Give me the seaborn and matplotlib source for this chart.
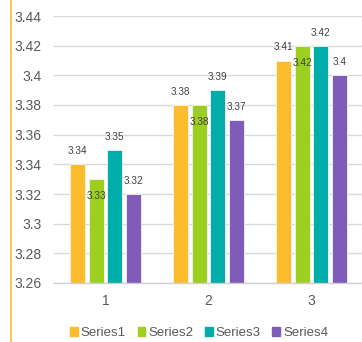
import matplotlib
matplotlib.use("Agg")
import matplotlib.pyplot as plt
import seaborn as sns
import pandas as pd
from matplotlib.lines import Line2D

categories = ["1", "2", "3"]
series_names = ["Series1", "Series2", "Series3", "Series4"]
series1 = [3.34, 3.38, 3.41]
series2 = [3.33, 3.38, 3.42]
series3 = [3.35, 3.39, 3.42]
series4 = [3.32, 3.37, 3.40]
colors = ["#FDBC2C", "#9DCF21", "#00ADA8", "#7E5CB8"]

rows = []
for name, vals in zip(series_names, [series1, series2, series3, series4]):
    for c, v in zip(categories, vals):
        rows.append({"cat": c, "series": name, "value": v})
df = pd.DataFrame(rows)

sns.set_theme(style="white")
plt.rcParams['font.family'] = ['Liberation Sans', 'DejaVu Sans']

fig = plt.figure(figsize=(3.62, 3.42), dpi=100)
ax = fig.add_axes([54/362, 59/342, 309/362, 267/342])

sns.barplot(data=df, x="cat", y="value", hue="series", palette=colors,
            saturation=1, width=0.72, gap=0.19, ax=ax, edgecolor="#f4f4f4",
            linewidth=0.6, legend=False)

ax.set_ylim(3.26, 3.44)
ax.set_xlim(-0.5, 2.5)
ax.set_yticks([3.26 + 0.02*i for i in range(10)])
ax.set_yticklabels(["3.26", "3.28", "3.3", "3.32", "3.34", "3.36", "3.38", "3.4", "3.42", "3.44"])
ax.yaxis.grid(True, color="#d9d9d9", linewidth=1)
ax.set_axisbelow(True)
for s in ["top", "right", "left"]:
    ax.spines[s].set_visible(False)
ax.spines["bottom"].set_color("#d0d0d0")
ax.spines["bottom"].set_linewidth(1)
ax.tick_params(axis="y", length=0, pad=9, labelsize=10, labelcolor="#595959")
ax.tick_params(axis="x", length=0, pad=8, labelsize=10, labelcolor="#595959")
ax.set_xlabel("")
ax.set_ylabel("")

for i, cont in enumerate(ax.containers):
    for bar in cont:
        h = bar.get_height()
        x = bar.get_x() + bar.get_width() / 2
        lab = f"{h:g}"
        if i == 1:
            ax.annotate(lab, (x, h), xytext=(0, -17), textcoords="offset pixels",
                        ha="center", va="center", fontsize=7.2, color="#404040")
        else:
            ax.annotate(lab, (x, h), xytext=(0, 13), textcoords="offset pixels",
                        ha="center", va="center", fontsize=7.2, color="#404040")

handles = [plt.Rectangle((0, 0), 1, 1, color=c) for c in colors]
fig.legend(handles, series_names, loc="center", bbox_to_anchor=(199/362, 9/342),
           ncol=4, frameon=False, fontsize=9.5, handlelength=0.6, handleheight=0.6,
           handletextpad=0.2, columnspacing=0.9, labelcolor="#595959")

fig.add_artist(Line2D([11/362, 11/362], [0, 1], color="#FDBC2C", linewidth=1.2,
                      transform=fig.transFigure))

fig.savefig("out.png", dpi=100)
